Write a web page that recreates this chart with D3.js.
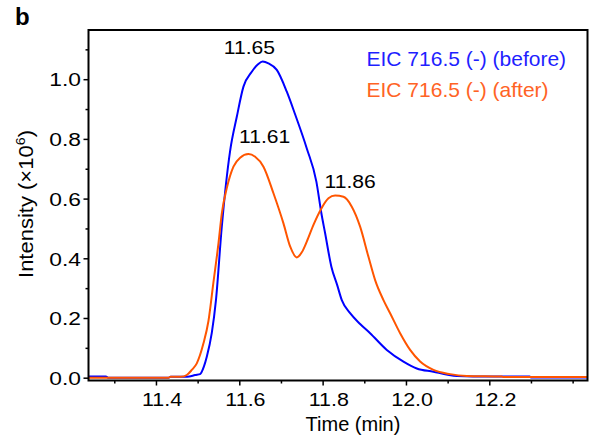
<!DOCTYPE html>
<html>
<head>
<meta charset="utf-8">
<script src="https://cdn.jsdelivr.net/npm/d3@7"></script>
<style>
    html, body { margin: 0; padding: 0; background: #fff; }
    svg { display: block; font-family: "Liberation Sans", Arial, sans-serif; }
</style>
</head>
<body>
<div id="chart"></div>
<script>
// retention time (min) and intensity (x10^6)
var beforeTime = [11.238, 11.28, 11.285, 11.43, 11.435, 11.47, 11.48, 11.494, 11.506, 11.515, 11.522, 11.534, 11.544,
    11.558, 11.578, 11.594, 11.61, 11.63, 11.645, 11.656, 11.67, 11.69, 11.714, 11.733, 11.762, 11.785, 11.797,
    11.806, 11.821, 11.835, 11.846, 11.866, 11.89, 11.914, 11.954, 11.994, 12.026, 12.066, 12.1, 12.122, 12.2,
    12.297, 12.3, 12.436];
var beforeValue = [0.004, 0.004, 0.0, 0.0, 0.003, 0.003, 0.004, 0.009, 0.012, 0.037, 0.07, 0.15, 0.26,
    0.506, 0.76, 0.874, 0.975, 1.025, 1.05, 1.059, 1.053, 1.031, 0.958, 0.886, 0.768, 0.657, 0.551,
    0.484, 0.372, 0.31, 0.26, 0.216, 0.18, 0.149, 0.093, 0.054, 0.031, 0.02, 0.01, 0.006, 0.004,
    0.004, 0.001, 0.001];

var afterTime = [11.238, 11.43, 11.435, 11.46, 11.474, 11.486, 11.498, 11.514, 11.526, 11.538, 11.55,
    11.558, 11.57, 11.586, 11.602, 11.622, 11.638, 11.658, 11.682, 11.706, 11.722, 11.738, 11.75, 11.762,
    11.778, 11.797, 11.814, 11.83, 11.85, 11.87, 11.89, 11.91, 11.926, 11.946, 11.962, 11.986, 12.01, 12.034,
    12.066, 12.106, 12.146, 12.23, 12.235, 12.436];
var afterValue = [0.0, 0.0, 0.003, 0.003, 0.009, 0.026, 0.048, 0.115, 0.19, 0.32, 0.45,
    0.55, 0.635, 0.707, 0.737, 0.749, 0.74, 0.707, 0.618, 0.517, 0.44, 0.403, 0.42, 0.456,
    0.512, 0.567, 0.601, 0.61, 0.606, 0.573, 0.506, 0.405, 0.327, 0.26, 0.216, 0.149, 0.093, 0.054,
    0.026, 0.012, 0.006, 0.004, 0.002, 0.002];

var seriesNames = ['EIC 716.5 (-) (before)', 'EIC 716.5 (-) (after)'];
var seriesColors = ['#0000ff', '#ff5500'];
var legendColors = ['#1f1fff', '#ff6325'];

var peakLabels = ['11.65', '11.61', '11.86'];
var peakTimes = [11.65, 11.61, 11.86];
var peakValues = [1.059, 0.749, 0.61];

var xTicks = [11.4, 11.6, 11.8, 12.0, 12.2];
var xMinorTicks = [11.3, 11.5, 11.7, 11.9, 12.1, 12.3, 12.4];
var yTicks = [0.0, 0.2, 0.4, 0.6, 0.8, 1.0];
var yMinorTicks = [0.1, 0.3, 0.5, 0.7, 0.9, 1.1];

(function () {
    'use strict';

    var width = 591,
        height = 443;
    var plot = {left: 88.5, right: 587.5, top: 30, bottom: 380.5};

    var svg = d3.select('#chart').append('svg')
        .attr('width', width)
        .attr('height', height);

    var x = d3.scaleLinear()
        .domain([11.2381, 12.4357])
        .range([plot.left, plot.right]);

    var y = d3.scaleLinear()
        .domain([-0.0094, 1.1648])
        .range([plot.bottom, plot.top]);

    // minor ticks first, so the axis draws over them
    svg.append('g')
        .attr('class', 'x-minor')
        .attr('transform', 'translate(0,' + plot.bottom + ')')
        .call(d3.axisBottom(x).tickValues(xMinorTicks).tickSize(3).tickFormat(''))
        .call(function (g) { g.select('.domain').remove(); });

    svg.append('g')
        .attr('class', 'y-minor')
        .attr('transform', 'translate(' + plot.left + ',0)')
        .call(d3.axisLeft(y).tickValues(yMinorTicks).tickSize(3).tickFormat(''))
        .call(function (g) { g.select('.domain').remove(); });

    var xAxis = svg.append('g')
        .attr('class', 'x-axis')
        .attr('transform', 'translate(0,' + plot.bottom + ')')
        .call(d3.axisBottom(x).tickValues(xTicks).tickSize(5).tickPadding(7).tickFormat(d3.format('.1f')));
    xAxis.select('.domain').remove();
    xAxis.selectAll('text')
        .attr('dx', 5)
        .attr('transform', 'scale(1.13,1)')
        .style('font-size', '19px')
        .style('fill', '#000');

    var yAxis = svg.append('g')
        .attr('class', 'y-axis')
        .attr('transform', 'translate(' + plot.left + ',0)')
        .call(d3.axisLeft(y).tickValues(yTicks).tickSize(5).tickPadding(2.5).tickFormat(d3.format('.1f')));
    yAxis.select('.domain').remove();
    yAxis.selectAll('text')
        .attr('dy', 6.8)
        .attr('transform', 'translate(-7.5,0) scale(1.2,1) translate(7.5,0)')
        .style('font-size', '19px')
        .style('fill', '#000');

    svg.selectAll('.tick line')
        .attr('stroke', '#000')
        .attr('stroke-width', 1.5);

    var line = d3.line()
        .x(function (d) { return x(d[0]); })
        .y(function (d) { return y(d[1]); })
        .curve(d3.curveMonotoneX);

    var series = [
        d3.zip(beforeTime, beforeValue),
        d3.zip(afterTime, afterValue)
    ];

    svg.append('defs').append('clipPath')
        .attr('id', 'plot-clip')
        .append('rect')
        .attr('x', plot.left)
        .attr('y', plot.top)
        .attr('width', plot.right - plot.left)
        .attr('height', plot.bottom - plot.top);

    svg.append('g')
        .attr('clip-path', 'url(#plot-clip)')
        .selectAll('path')
        .data(series)
        .enter().append('path')
        .attr('d', line)
        .attr('fill', 'none')
        .attr('stroke', function (d, i) { return seriesColors[i]; })
        .attr('stroke-width', 2)
        .attr('stroke-linejoin', 'round');

    // frame
    svg.append('rect')
        .attr('x', plot.left)
        .attr('y', plot.top)
        .attr('width', plot.right - plot.left)
        .attr('height', plot.bottom - plot.top)
        .attr('fill', 'none')
        .attr('stroke', '#000')
        .attr('stroke-width', 2);

    // peak labels, nudged to where the reference puts them
    var peakOffsets = [[-0.0256, -7.6], [0.051, -10.8], [0.006, -7.3]];
    svg.selectAll('.peak')
        .data(peakLabels)
        .enter().append('text')
        .attr('class', 'peak')
        .attr('transform', function (d, i) {
            var px = x(peakTimes[i] + peakOffsets[i][0]),
                py = y(peakValues[i]) + peakOffsets[i][1];
            return 'translate(' + px + ',' + py + ') scale(1.11,1)';
        })
        .attr('text-anchor', 'middle')
        .style('font-size', '19px')
        .text(function (d) { return d; });

    // legend
    svg.selectAll('.legend')
        .data(seriesNames)
        .enter().append('text')
        .attr('class', 'legend')
        .attr('x', 366.5)
        .attr('y', function (d, i) { return 65.7 + i * 31; })
        .style('font-size', '21px')
        .style('fill', function (d, i) { return legendColors[i]; })
        .text(function (d) { return d; });

    // axis titles
    svg.append('text')
        .attr('x', 353)
        .attr('y', 431)
        .attr('text-anchor', 'middle')
        .style('font-size', '20px')
        .text('Time (min)');

    var yTitle = svg.append('text')
        .attr('transform', 'translate(33,204) rotate(-90) scale(1.1,1)')
        .attr('text-anchor', 'middle')
        .style('font-size', '20px');
    yTitle.append('tspan').text('Intensity (\u00d710');
    yTitle.append('tspan').attr('dy', -8).style('font-size', '13px').text('6');
    yTitle.append('tspan').attr('dy', 8).text(')');

    svg.append('text')
        .attr('x', 15)
        .attr('y', 25)
        .style('font-size', '24px')
        .style('font-weight', 'bold')
        .text('b');
})();
</script>
</body>
</html>
